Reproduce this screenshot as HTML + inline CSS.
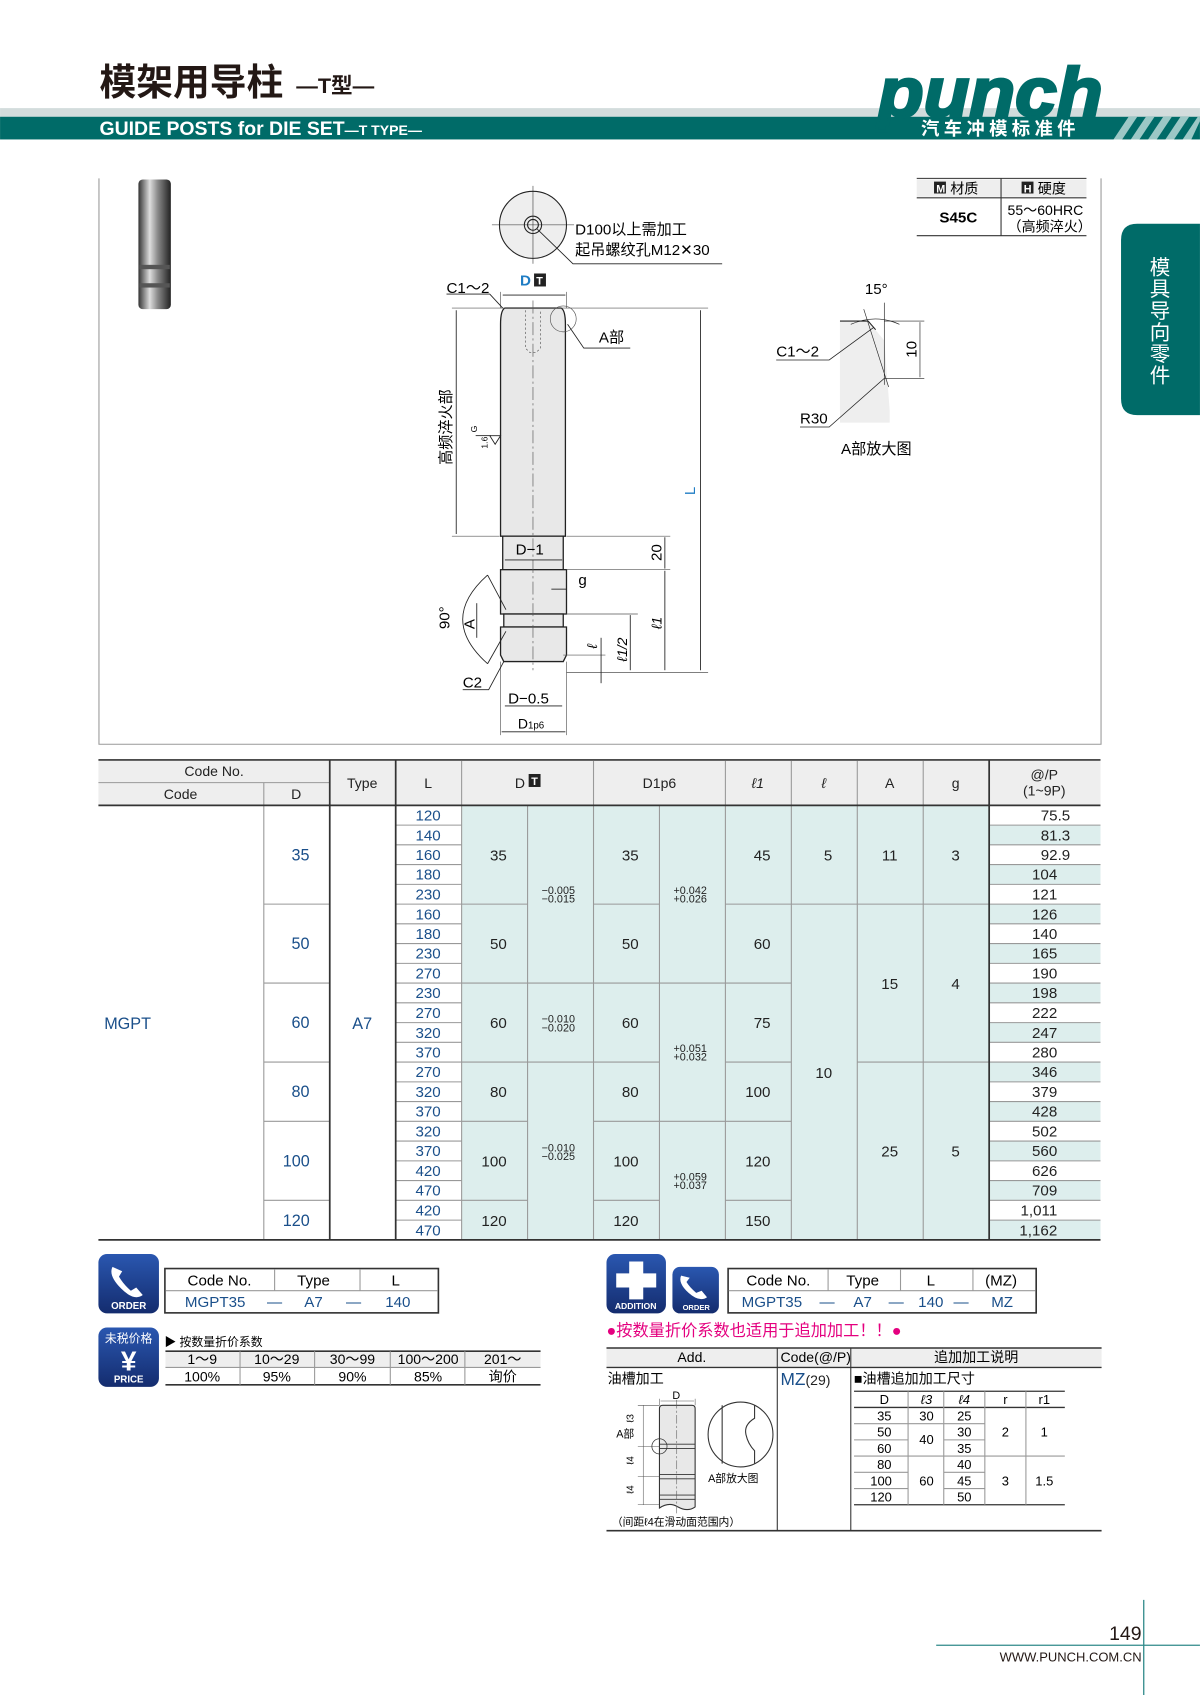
<!DOCTYPE html>
<html><head><meta charset="utf-8"><style>
html,body{margin:0;padding:0;background:#fff;width:1200px;height:1695px;overflow:hidden}
svg{display:block}
text{font-family:"Liberation Sans","Noto Sans CJK SC",sans-serif}
</style></head><body>
<svg width="1200" height="1695" viewBox="0 0 1110 1568" xmlns="http://www.w3.org/2000/svg">
<defs>
<linearGradient id="bl" x1="0" y1="0" x2="0" y2="1"><stop offset="0" stop-color="#2a57b0"/><stop offset="1" stop-color="#142c6e"/></linearGradient>
<linearGradient id="met" x1="0" y1="0" x2="1" y2="0"><stop offset="0" stop-color="#333"/><stop offset="0.35" stop-color="#ddd"/><stop offset="0.6" stop-color="#888"/><stop offset="1" stop-color="#222"/></linearGradient>
</defs>
<!-- HEADER -->
<text x="92" y="88" font-size="34" font-weight="bold" fill="#231815">模架用导柱</text>
<text x="274" y="86" font-size="20" font-weight="bold" fill="#231815">—T型—</text>
<rect x="0" y="100" width="1110" height="8" fill="#d3dcdc"/>
<rect x="0" y="108" width="1110" height="21" fill="#006b68"/>
<text x="92" y="125" font-size="18" font-weight="bold" fill="#fff">GUIDE POSTS for DIE SET<tspan font-size="13">—T TYPE—</tspan></text>
<g fill="#9cc8c6">
<polygon points="1030,129 1044,108 1052,108 1038,129"/><polygon points="1046,129 1060,108 1068,108 1054,129"/><polygon points="1062,129 1076,108 1084,108 1070,129"/><polygon points="1078,129 1092,108 1100,108 1086,129"/><polygon points="1094,129 1108,108 1110,108 1110,112 1102,129"/>
</g>
<text x="812" y="108" font-size="64" font-weight="bold" font-style="italic" fill="#006b68" stroke="#006b68" stroke-width="2.5" textLength="208" lengthAdjust="spacingAndGlyphs">punch</text>
<text x="852" y="125" font-size="17" font-weight="bold" fill="#fff" letter-spacing="4">汽车冲模标准件</text>
<!-- side tab -->
<path d="M1052,207 H1110 V384 H1052 Q1037,384 1037,369 V222 Q1037,207 1052,207Z" fill="#006b68"/>
<text font-size="19" fill="#fff" text-anchor="middle"><tspan x="1073" y="254">模</tspan><tspan x="1073" y="274">具</tspan><tspan x="1073" y="294">导</tspan><tspan x="1073" y="314">向</tspan><tspan x="1073" y="334">零</tspan><tspan x="1073" y="354">件</tspan></text>
<!-- drawing frame -->
<path d="M91.5,165 V688.5 H1018.5 V165" fill="none" stroke="#999" stroke-width="1"/>
<!-- photo -->
<rect x="128" y="166" width="30" height="120" rx="4" fill="url(#met)"/>
<rect x="129" y="245" width="28" height="4" fill="#555"/><rect x="129" y="262" width="28" height="4" fill="#555"/>
<!-- material table -->
<line x1="848" y1="165" x2="1005" y2="165" stroke="#333"/>
<rect x="848" y="166" width="157" height="16" fill="#eee"/>
<line x1="848" y1="183" x2="1005" y2="183" stroke="#333"/>
<line x1="848" y1="218" x2="1005" y2="218" stroke="#333"/>
<line x1="926" y1="165" x2="926" y2="218" stroke="#333"/>
<rect x="864" y="168" width="11" height="11" fill="#222"/><text x="866" y="178" font-size="10" fill="#fff" font-weight="bold">M</text>
<text x="879" y="179" font-size="13">材质</text>
<rect x="945" y="168" width="11" height="11" fill="#222"/><text x="947" y="178" font-size="10" fill="#fff" font-weight="bold">H</text>
<text x="960" y="179" font-size="13">硬度</text>
<text x="869" y="206" font-size="14" font-weight="bold">S45C</text>
<text x="932" y="199" font-size="13">55～60HRC</text>
<text x="932" y="214" font-size="13">（高频淬火）</text>
<!-- top view -->
<g stroke="#222" fill="none">
<circle cx="493" cy="208" r="31" fill="#eee"/>
<circle cx="493" cy="208" r="8"/><circle cx="493" cy="208" r="5"/>
<line x1="455" y1="208" x2="531" y2="208" stroke-width="0.5"/><line x1="493" y1="172" x2="493" y2="244" stroke-width="0.5"/>
<polyline points="497,212 530,244 668,244" stroke-width="0.8"/>
</g>
<text x="532" y="217" font-size="14">D100以上需加工</text>
<text x="532" y="236" font-size="14">起吊螺纹孔M12✕30</text>
<!-- post -->
<g stroke="#222" stroke-width="1.2" fill="#e8e8e8">
<path d="M467,285 H519 Q523,287 523,300 V496 H463 V300 Q463,287 467,285Z"/>
<rect x="465" y="496" width="56" height="31"/>
<rect x="463" y="527" width="61" height="41"/>
<rect x="466" y="568" width="55" height="12"/>
<path d="M463,580 H524 V606 L521,612 H466 L463,606Z"/>
</g>
<g stroke="#555" stroke-width="0.6" fill="none">
<line x1="493" y1="278" x2="493" y2="620" stroke-dasharray="12,3,2,3"/>
<path d="M486,287 V322 L490,326 H496 L500,322 V287" stroke-dasharray="2,2"/>
<circle cx="521" cy="295" r="12"/>
<line x1="418" y1="285" x2="655" y2="285"/><line x1="418" y1="496" x2="462" y2="496"/>
<line x1="524" y1="496" x2="620" y2="496"/><line x1="524" y1="527" x2="620" y2="527"/>
<line x1="524" y1="622" x2="655" y2="622"/><line x1="524" y1="568" x2="590" y2="568"/>
<line x1="521" y1="606" x2="560" y2="606"/>
<line x1="463" y1="270" x2="463" y2="285"/><line x1="524" y1="270" x2="524" y2="285"/>
<line x1="463" y1="612" x2="463" y2="680"/><line x1="524" y1="612" x2="524" y2="680"/>
</g>
<g stroke="#222" stroke-width="0.8" fill="none">
<line x1="465" y1="273" x2="523" y2="273"/>
<line x1="422" y1="287" x2="422" y2="494"/>
<line x1="648" y1="287" x2="648" y2="620"/>
<line x1="615" y1="497" x2="615" y2="526"/>
<line x1="615" y1="528" x2="615" y2="620"/>
<line x1="583" y1="569" x2="583" y2="620"/>
<line x1="556" y1="590" x2="556" y2="632"/>
<line x1="467" y1="518" x2="520" y2="518"/>
<line x1="467" y1="653" x2="520" y2="653"/>
<line x1="464" y1="677" x2="523" y2="677"/>
<line x1="510" y1="545" x2="524" y2="545"/>
<polyline points="413,272 453,272 465,285"/>
<polyline points="525,300 540,322 583,322"/>
<polyline points="428,638 452,638 466,612"/>
<path d="M451,532 Q405,573 451,614"/>
<line x1="451" y1="532" x2="468" y2="564"/><line x1="451" y1="614" x2="468" y2="584"/>
<line x1="441" y1="558" x2="441" y2="590"/>
<polyline points="453,403 458,411 463,403 453,403"/>
<line x1="440" y1="403" x2="454" y2="403"/>
</g>
<text x="413" y="271" font-size="14">C1～2</text>
<text x="481" y="264" font-size="14" font-weight="bold" fill="#1f7dc4">D</text>
<rect x="494" y="253" width="11" height="12" fill="#222"/><text x="496" y="263" font-size="10" fill="#fff" font-weight="bold">T</text>
<text x="554" y="317" font-size="14">A部</text>
<text x="477" y="513" font-size="14">D−1</text>
<text x="535" y="541" font-size="14">g</text>
<text x="470" y="651" font-size="14">D−0.5</text>
<text x="479" y="674" font-size="13">D<tspan font-size="9">1p6</tspan></text>
<text x="428" y="636" font-size="14">C2</text>
<text transform="translate(417,430) rotate(-90)" font-size="14">高频淬火部</text>
<text transform="translate(612,519) rotate(-90)" font-size="14">20</text>
<text transform="translate(612,582) rotate(-90)" font-size="13" font-style="italic">ℓ1</text>
<text transform="translate(580,612) rotate(-90)" font-size="13" font-style="italic">ℓ1/2</text>
<text transform="translate(552,600) rotate(-90)" font-size="13" font-style="italic">ℓ</text>
<text transform="translate(416,582) rotate(-90)" font-size="14">90°</text>
<text transform="translate(439,582) rotate(-90)" font-size="14">A</text>
<text transform="translate(643,458) rotate(-90)" font-size="14" fill="#1f7dc4">L</text>
<text transform="translate(451,415) rotate(-90)" font-size="8">1.6</text>
<text transform="translate(441,400) rotate(-90)" font-size="8">G</text>
<!-- A detail -->
<path d="M777,297 H803 L818,315 L823,380 V391 H777Z" fill="#eee"/>
<g stroke="#222" fill="none" stroke-width="1">
<polyline points="777,297 803,297 810,305 Q820,340 823,387"/>
<line x1="799" y1="286" x2="822" y2="358" stroke-width="0.6"/>
<line x1="818" y1="280" x2="818" y2="356" stroke-width="0.6"/>
<path d="M787,300 Q810,290 832,300" stroke-width="0.6"/>
<line x1="818" y1="297" x2="855" y2="297" stroke-width="0.6"/>
<line x1="818" y1="350" x2="855" y2="350" stroke-width="0.6"/>
<line x1="851" y1="298" x2="851" y2="349" stroke-width="0.6"/>
<polyline points="718,333 767,333 808,303" stroke-width="0.7"/>
<polyline points="740,395 767,395 818,350" stroke-width="0.7"/>
</g>
<text x="800" y="272" font-size="14">15°</text>
<text x="718" y="330" font-size="14">C1～2</text>
<text x="740" y="392" font-size="14">R30</text>
<text transform="translate(848,331) rotate(-90)" font-size="14">10</text>
<text x="778" y="420" font-size="14">A部放大图</text>
<!-- MAIN TABLE -->
<rect x="91" y="704" width="927" height="41" fill="#eeeeee"/>
<rect x="427" y="745" width="488" height="402" fill="#ddeeed"/>
<g fill="#ddeeed">
<rect x="915" y="763.3" width="103" height="18.3"/><rect x="915" y="799.8" width="103" height="18.3"/><rect x="915" y="836.4" width="103" height="18.3"/><rect x="915" y="872.9" width="103" height="18.3"/><rect x="915" y="909.4" width="103" height="18.3"/><rect x="915" y="946" width="103" height="18.3"/><rect x="915" y="982.5" width="103" height="18.3"/><rect x="915" y="1019" width="103" height="18.3"/><rect x="915" y="1055.6" width="103" height="18.3"/><rect x="915" y="1092.1" width="103" height="18.3"/><rect x="915" y="1128.7" width="103" height="18.3"/>
</g>
<g stroke="#999" stroke-width="1">
<line x1="91" y1="724" x2="305" y2="724"/>
<line x1="244" y1="724" x2="244" y2="1147"/>
<line x1="427" y1="704" x2="427" y2="1147"/><line x1="549" y1="704" x2="549" y2="1147"/>
<line x1="671" y1="704" x2="671" y2="1147"/><line x1="732" y1="704" x2="732" y2="1147"/>
<line x1="793" y1="704" x2="793" y2="1147"/><line x1="854" y1="704" x2="854" y2="1147"/>
<line x1="488" y1="745" x2="488" y2="1147"/><line x1="610" y1="745" x2="610" y2="1147"/>
<path d="M366,763.3H427M366,781.5H427M366,799.8H427M366,818.1H427M366,836.4H427M366,854.6H427M366,872.9H427M366,891.2H427M366,909.4H427M366,927.7H427M366,946H427M366,964.2H427M366,982.5H427M366,1000.8H427M366,1019H427M366,1037.3H427M366,1055.6H427M366,1073.9H427M366,1092.1H427M366,1110.4H427M366,1128.7H427"/>
<path d="M915,763.3H1018M915,781.5H1018M915,799.8H1018M915,818.1H1018M915,836.4H1018M915,854.6H1018M915,872.9H1018M915,891.2H1018M915,909.4H1018M915,927.7H1018M915,946H1018M915,964.2H1018M915,982.5H1018M915,1000.8H1018M915,1019H1018M915,1037.3H1018M915,1055.6H1018M915,1073.9H1018M915,1092.1H1018M915,1110.4H1018M915,1128.7H1018"/>
<path d="M244,836.4H305M244,909.4H305M244,982.5H305M244,1110.4H305M244,1037.3H305"/>
<path d="M427,836.4H488M427,909.4H488M427,982.5H488M427,1037.3H488M427,1110.4H488"/>
<path d="M549,836.4H610M549,909.4H610M549,982.5H610M549,1037.3H610M549,1110.4H610"/>
<path d="M671,836.4H732M671,909.4H732M671,982.5H732M671,1037.3H732M671,1110.4H732"/>
<path d="M488,909.4H549M488,982.5H549M610,909.4H671M610,1037.3H671"/>
<path d="M732,836.4H793M793,836.4H915M793,982.5H915"/>
</g>
<g stroke="#333" stroke-width="1.6">
<line x1="91" y1="703" x2="1018" y2="703"/><line x1="91" y1="745" x2="1018" y2="745"/><line x1="91" y1="1147" x2="1018" y2="1147"/>
<line x1="305" y1="703" x2="305" y2="1147"/><line x1="366" y1="703" x2="366" y2="1147"/><line x1="915" y1="703" x2="915" y2="1147"/>
</g>
<g font-size="13" text-anchor="middle" fill="#222">
<text x="198" y="718">Code No.</text><text x="167" y="739">Code</text><text x="274" y="739">D</text>
<text x="335" y="729">Type</text><text x="396" y="729">L</text>
<text x="481" y="729">D</text><rect x="489" y="716" width="11" height="12" fill="#222"/><text x="494.5" y="726" font-size="10" fill="#fff" font-weight="bold">T</text>
<text x="610" y="729">D1p6</text><text x="701" y="729" font-style="italic">ℓ1</text><text x="762" y="729" font-style="italic">ℓ</text>
<text x="823" y="729">A</text><text x="884" y="729">g</text>
<text x="966" y="721">@/P</text><text x="966" y="736">(1~9P)</text>
</g>
<g font-size="15" text-anchor="middle" fill="#1a4f8a">
<text x="118" y="952">MGPT</text><text x="335" y="952">A7</text>
<text x="278" y="796">35</text><text x="278" y="878">50</text><text x="278" y="951">60</text><text x="278" y="1015">80</text><text x="274" y="1079">100</text><text x="274" y="1134">120</text>
</g>
<g font-size="14" text-anchor="middle" fill="#1a4f8a">
<text x="396" y="759">120</text><text x="396" y="777.3">140</text><text x="396" y="795.5">160</text><text x="396" y="813.8">180</text><text x="396" y="832.1">230</text><text x="396" y="850.4">160</text><text x="396" y="868.6">180</text><text x="396" y="886.9">230</text><text x="396" y="905.2">270</text><text x="396" y="923.4">230</text><text x="396" y="941.7">270</text><text x="396" y="960">320</text><text x="396" y="978.2">370</text><text x="396" y="996.5">270</text><text x="396" y="1014.8">320</text><text x="396" y="1033">370</text><text x="396" y="1051.3">320</text><text x="396" y="1069.6">370</text><text x="396" y="1087.9">420</text><text x="396" y="1106.1">470</text><text x="396" y="1124.4">420</text><text x="396" y="1142.7">470</text>
</g>
<g font-size="14" text-anchor="end" fill="#222">
<text x="990" y="759">75.5</text><text x="990" y="777.3">81.3</text><text x="990" y="795.5">92.9</text><text x="978" y="813.8">104</text><text x="978" y="832.1">121</text><text x="978" y="850.4">126</text><text x="978" y="868.6">140</text><text x="978" y="886.9">165</text><text x="978" y="905.2">190</text><text x="978" y="923.4">198</text><text x="978" y="941.7">222</text><text x="978" y="960">247</text><text x="978" y="978.2">280</text><text x="978" y="996.5">346</text><text x="978" y="1014.8">379</text><text x="978" y="1033">428</text><text x="978" y="1051.3">502</text><text x="978" y="1069.6">560</text><text x="978" y="1087.9">626</text><text x="978" y="1106.1">709</text><text x="978" y="1124.4">1,011</text><text x="978" y="1142.7">1,162</text>
</g>
<g font-size="14" text-anchor="middle" fill="#222">
<text x="461" y="796">35</text><text x="461" y="878">50</text><text x="461" y="951">60</text><text x="461" y="1015">80</text><text x="457" y="1079">100</text><text x="457" y="1134">120</text>
<text x="583" y="796">35</text><text x="583" y="878">50</text><text x="583" y="951">60</text><text x="583" y="1015">80</text><text x="579" y="1079">100</text><text x="579" y="1134">120</text>
<text x="705" y="796">45</text><text x="705" y="878">60</text><text x="705" y="951">75</text><text x="701" y="1015">100</text><text x="701" y="1079">120</text><text x="701" y="1134">150</text>
<text x="766" y="796">5</text><text x="762" y="997">10</text>
<text x="823" y="796">11</text><text x="823" y="915">15</text><text x="823" y="1070">25</text>
<text x="884" y="796">3</text><text x="884" y="915">4</text><text x="884" y="1070">5</text>
</g>
<g font-size="10" fill="#222">
<text x="501" y="827">−0.005</text><text x="501" y="835">−0.015</text>
<text x="501" y="946">−0.010</text><text x="501" y="954">−0.020</text>
<text x="501" y="1065">−0.010</text><text x="501" y="1073">−0.025</text>
<text x="623" y="827">+0.042</text><text x="623" y="835">+0.026</text>
<text x="623" y="973">+0.051</text><text x="623" y="981">+0.032</text>
<text x="623" y="1092">+0.059</text><text x="623" y="1100">+0.037</text>
</g>
<!-- ORDER LEFT -->
<rect x="91" y="1160" width="56" height="55" rx="8" fill="url(#bl)"/>
<path d="M104,1172 Q100,1180 112,1192 Q124,1204 132,1198 L126,1191 L121,1194 Q114,1188 110,1181 L113,1176Z" fill="#fff"/>
<text x="119" y="1211" font-size="9" font-weight="bold" fill="#fff" text-anchor="middle">ORDER</text>
<rect x="152.5" y="1173.5" width="253" height="41" fill="none" stroke="#333" stroke-width="1.5"/>
<line x1="153" y1="1194" x2="405" y2="1194" stroke="#999"/>
<line x1="254" y1="1174" x2="254" y2="1194" stroke="#999"/><line x1="333" y1="1174" x2="333" y2="1194" stroke="#999"/>
<g font-size="14" text-anchor="middle"><text x="203" y="1189">Code No.</text><text x="290" y="1189">Type</text><text x="366" y="1189">L</text>
<g fill="#1a4f8a"><text x="199" y="1209">MGPT35</text><text x="254" y="1209">—</text><text x="290" y="1209">A7</text><text x="327" y="1209">—</text><text x="368" y="1209">140</text></g></g>
<!-- PRICE -->
<rect x="91" y="1228" width="56" height="55" rx="8" fill="url(#bl)"/>
<text x="119" y="1242" font-size="11" fill="#fff" text-anchor="middle">未税价格</text>
<text x="119" y="1268" font-size="26" font-weight="bold" fill="#fff" text-anchor="middle">¥</text>
<text x="119" y="1279" font-size="9" font-weight="bold" fill="#fff" text-anchor="middle">PRICE</text>
<text x="152" y="1245" font-size="11">▶ 按数量折价系数</text>
<rect x="153" y="1250" width="347" height="15" fill="#eee"/>
<line x1="153" y1="1250" x2="500" y2="1250" stroke="#333" stroke-width="1.5"/>
<line x1="153" y1="1265" x2="500" y2="1265" stroke="#999"/>
<line x1="153" y1="1281" x2="500" y2="1281" stroke="#333" stroke-width="1.5"/>
<g stroke="#999"><line x1="222" y1="1250" x2="222" y2="1281"/><line x1="291" y1="1250" x2="291" y2="1281"/><line x1="361" y1="1250" x2="361" y2="1281"/><line x1="430" y1="1250" x2="430" y2="1281"/></g>
<g font-size="13" text-anchor="middle"><text x="187" y="1262">1～9</text><text x="256" y="1262">10～29</text><text x="326" y="1262">30～99</text><text x="396" y="1262">100～200</text><text x="465" y="1262">201～</text>
<text x="187" y="1278">100%</text><text x="256" y="1278">95%</text><text x="326" y="1278">90%</text><text x="396" y="1278">85%</text><text x="465" y="1278">询价</text></g>
<!-- ADDITION -->
<rect x="561" y="1160" width="55" height="55" rx="8" fill="url(#bl)"/>
<path d="M582,1167 H595 V1178 H607 V1191 H595 V1202 H582 V1191 H570 V1178 H582Z" fill="#fff"/>
<text x="588" y="1211" font-size="8" font-weight="bold" fill="#fff" text-anchor="middle">ADDITION</text>
<rect x="622" y="1172" width="43" height="43" rx="7" fill="url(#bl)"/>
<path d="M630,1180 Q627,1187 637,1196 Q647,1205 654,1200 L649,1194 L644,1196 Q638,1191 635,1186 L638,1182Z" fill="#fff"/>
<text x="644" y="1212" font-size="7" font-weight="bold" fill="#fff" text-anchor="middle">ORDER</text>
<rect x="673.5" y="1173.5" width="285" height="41" fill="none" stroke="#333" stroke-width="1.5"/>
<line x1="674" y1="1194" x2="958" y2="1194" stroke="#999"/>
<g stroke="#999"><line x1="766" y1="1174" x2="766" y2="1194"/><line x1="833" y1="1174" x2="833" y2="1194"/><line x1="900" y1="1174" x2="900" y2="1194"/></g>
<g font-size="14" text-anchor="middle"><text x="720" y="1189">Code No.</text><text x="798" y="1189">Type</text><text x="861" y="1189">L</text><text x="926" y="1189">(MZ)</text>
<g fill="#1a4f8a"><text x="714" y="1209">MGPT35</text><text x="765" y="1209">—</text><text x="798" y="1209">A7</text><text x="829" y="1209">—</text><text x="861" y="1209">140</text><text x="889" y="1209">—</text><text x="927" y="1209">MZ</text></g></g>
<text x="561" y="1236" font-size="15" fill="#e4007f">●按数量折价系数也适用于追加加工！！●</text>
<!-- additional table -->
<rect x="561" y="1247" width="458" height="17" fill="#eee"/>
<line x1="561" y1="1247" x2="1019" y2="1247" stroke="#333" stroke-width="1.5"/>
<line x1="561" y1="1265" x2="1019" y2="1265" stroke="#333" stroke-width="1.2"/>
<line x1="561" y1="1416" x2="1019" y2="1416" stroke="#333" stroke-width="1.5"/>
<line x1="719" y1="1247" x2="719" y2="1416" stroke="#333"/><line x1="787" y1="1247" x2="787" y2="1416" stroke="#333"/>
<g font-size="13"><text x="640" y="1260" text-anchor="middle">Add.</text><text x="722" y="1260">Code(@/P)</text><text x="903" y="1260" text-anchor="middle">追加加工说明</text>
<text x="562" y="1280">油槽加工</text><text x="722" y="1281" font-size="16" fill="#1a4f8a">MZ<tspan font-size="13" fill="#222">(29)</tspan></text>
<text x="790" y="1280">■油槽追加加工尺寸</text></g>
<!-- small drawing -->
<g stroke="#333" fill="#e8e8e8" stroke-width="1">
<path d="M613,1300 H640 Q643,1300 643,1303 V1394 Q636,1399 627,1394 Q619,1389 610,1395 V1303 Q610,1300 613,1300Z"/>
<circle cx="685" cy="1327" r="30" fill="#fff"/>
<path d="M668,1300 V1354 M698,1300 V1312 Q688,1318 690,1327 Q692,1336 698,1342 V1354" fill="none"/>
</g>
<g stroke="#333" stroke-width="0.8"><path d="M610,1336H643M610,1340H643M610,1364H643M610,1368H643M610,1383H643M610,1387H643"/></g>
<g stroke="#555" stroke-width="0.5" fill="none"><path d="M610,1294V1300M643,1294V1300M611,1296H642"/><path d="M590,1300H610M590,1338H610M590,1366H610M590,1392H610M595,1300V1392"/></g>
<circle cx="610" cy="1338" r="7" fill="none" stroke="#333" stroke-width="0.7"/>
<line x1="626" y1="1295" x2="626" y2="1400" stroke="#555" stroke-width="0.5" stroke-dasharray="8,2,2,2"/>
<text x="622" y="1294" font-size="10">D</text>
<text x="570" y="1330" font-size="10">A部</text>
<text x="655" y="1371" font-size="10">A部放大图</text>
<text x="566" y="1411" font-size="10">（间距ℓ4在滑动面范围内）</text>
<text transform="translate(586,1316) rotate(-90)" font-size="9">ℓ3</text>
<text transform="translate(586,1355) rotate(-90)" font-size="9">ℓ4</text>
<text transform="translate(586,1382) rotate(-90)" font-size="9">ℓ4</text>
<!-- sub table -->
<line x1="790" y1="1287" x2="985" y2="1287" stroke="#333" stroke-width="1.2"/>
<line x1="790" y1="1302" x2="985" y2="1302" stroke="#333" stroke-width="1.2"/>
<line x1="790" y1="1392" x2="985" y2="1392" stroke="#333" stroke-width="1.2"/>
<g stroke="#999"><line x1="840" y1="1287" x2="840" y2="1392"/><line x1="873" y1="1287" x2="873" y2="1392"/><line x1="911" y1="1287" x2="911" y2="1392"/><line x1="949" y1="1287" x2="949" y2="1392"/>
<path d="M790,1317H911M790,1332H840M873,1332H911M790,1347H985M790,1362H840M873,1362H911M790,1377H840M873,1377H911"/></g>
<g font-size="12" text-anchor="middle"><text x="818" y="1299">D</text><text x="857" y="1299" font-style="italic">ℓ3</text><text x="892" y="1299" font-style="italic">ℓ4</text><text x="930" y="1299">r</text><text x="966" y="1299">r1</text>
<text x="818" y="1314">35</text><text x="818" y="1329">50</text><text x="818" y="1344">60</text><text x="818" y="1359">80</text><text x="815" y="1374">100</text><text x="815" y="1389">120</text>
<text x="857" y="1314">30</text><text x="857" y="1336">40</text><text x="857" y="1374">60</text>
<text x="892" y="1314">25</text><text x="892" y="1329">30</text><text x="892" y="1344">35</text><text x="892" y="1359">40</text><text x="892" y="1374">45</text><text x="892" y="1389">50</text>
<text x="930" y="1329">2</text><text x="966" y="1329">1</text><text x="930" y="1374">3</text><text x="966" y="1374">1.5</text></g>
<!-- footer -->
<line x1="866" y1="1522" x2="1110" y2="1522" stroke="#2f8a8a" stroke-width="1.2"/>
<line x1="1058" y1="1480" x2="1058" y2="1568" stroke="#2f8a8a" stroke-width="1.2"/>
<text x="1056" y="1517" font-size="18" text-anchor="end" fill="#231815">149</text>
<text x="1056" y="1537" font-size="12" text-anchor="end" fill="#231815">WWW.PUNCH.COM.CN</text>
</svg>
</body></html>
